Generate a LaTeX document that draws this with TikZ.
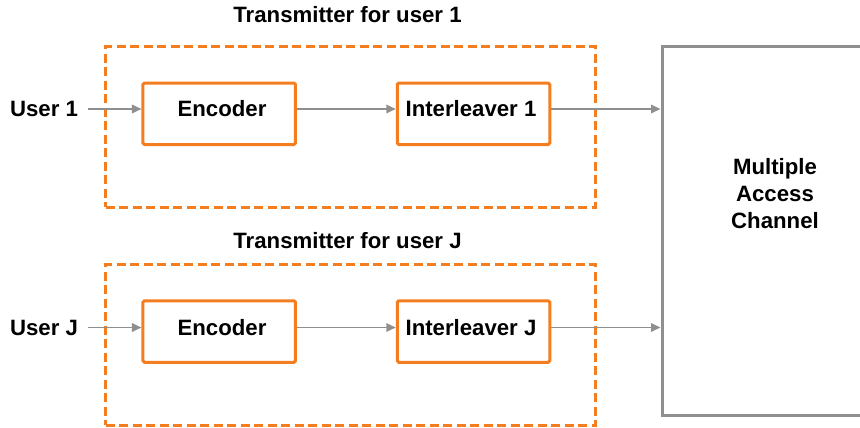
\documentclass[tikz,border=0pt]{standalone}
\usepackage{fontspec}
\setmainfont{Liberation Sans}
\usetikzlibrary{arrows.meta}
\definecolor{torange}{HTML}{F47D20}
\definecolor{lgray}{HTML}{8F8F8F}
\tikzset{
  lbl/.style={font=\fontsize{22.2}{27}\selectfont\bfseries, inner sep=0pt, align=center},
  blockbox/.style={draw=torange, line width=3pt, rounded corners=1.5pt, fill=white,
    minimum width=152.5pt, minimum height=61.5pt, inner sep=0pt},
  txbox/.style={draw=torange, line width=3pt, dash pattern=on 9pt off 4.5pt,
    minimum width=490pt, minimum height=160.5pt, inner sep=0pt},
  chanbox/.style={draw=lgray, line width=3pt, minimum width=226pt, minimum height=369pt, inner sep=0pt},
  arr/.style={draw=lgray, line width=1.8pt, -{Triangle[length=9.5pt,width=8.5pt]}},
}
\begin{document}
\begin{tikzpicture}[x=1pt,y=-1pt]
\useasboundingbox (0,0) rectangle (860,428);

% transmitter frames
\node[txbox] (tx1) at (350.5,127.2) {};
\node[txbox] (txJ) at (350.5,345) {};
\node[lbl] (t1) at (347.5,15) {Transmitter for user 1};
\node[lbl] (tJ) at (347.5,241) {Transmitter for user J};

% channel
\node[chanbox] (ch) at (775,231) {};
\node[lbl] (cht) at (775,193.5) {Multiple\\Access\\Channel};

% user 1 chain
\node[lbl] (u1) at (44,109) {User 1};
\node[blockbox] (e1) at (219.2,113.8) {};
\node[lbl] (e1t) at (222,109) {Encoder};
\node[blockbox] (i1) at (473.5,113.8) {};
\node[lbl] (i1t) at (471,109) {Interleaver 1};

% user J chain
\node[lbl] (uJ) at (44,327.5) {User J};
\node[blockbox] (eJ) at (219.2,331.5) {};
\node[lbl] (eJt) at (222,327.5) {Encoder};
\node[blockbox] (iJ) at (473.5,331.5) {};
\node[lbl] (iJt) at (471,327.5) {Interleaver J};

% connectors
\coordinate (s1) at (87.5,109);
\coordinate (sJ) at (87.5,327.5);
\draw[arr] (s1) -- (s1 -| e1.west);
\draw[arr] (e1t -| e1.east) -- (e1t -| i1.west);
\draw[arr] (i1t -| i1.east) -- (i1t -| ch.west);
\draw[arr] (sJ) -- (sJ -| eJ.west);
\draw[arr] (eJt -| eJ.east) -- (eJt -| iJ.west);
\draw[arr] (iJt -| iJ.east) -- (iJt -| ch.west);
\end{tikzpicture}
\end{document}
